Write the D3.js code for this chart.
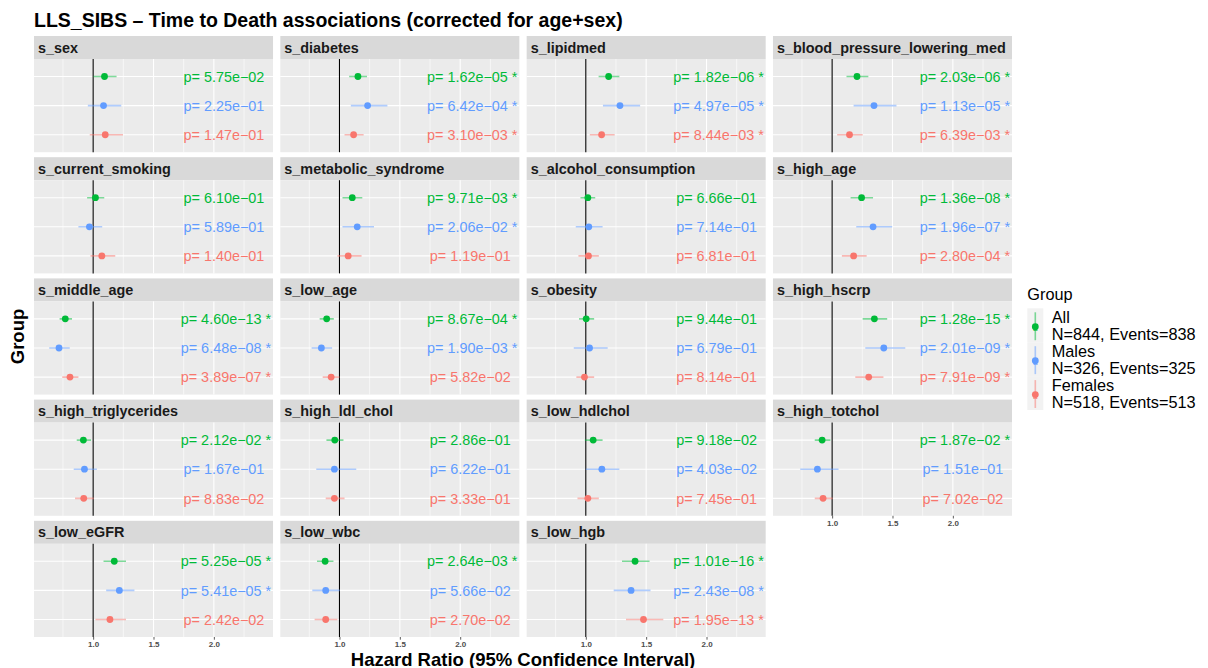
<!DOCTYPE html>
<html>
<head>
<meta charset="utf-8">
<script src="https://cdn.jsdelivr.net/npm/d3@7"></script>
<style>
  html, body { margin: 0; padding: 0; background: #ffffff; }
  svg { display: block; font-family: "Liberation Sans", Arial, Helvetica, sans-serif; }
</style>
</head>
<body>
<svg id="chart" width="1208" height="668"></svg>
<script>
// ---------------- data ----------------
const variables = ["s_sex","s_diabetes","s_lipidmed","s_blood_pressure_lowering_med",
  "s_current_smoking","s_metabolic_syndrome","s_alcohol_consumption","s_high_age",
  "s_middle_age","s_low_age","s_obesity","s_high_hscrp",
  "s_high_triglycerides","s_high_ldl_chol","s_low_hdlchol","s_high_totchol",
  "s_low_eGFR","s_low_wbc","s_low_hgb"];

const groups = ["All", "Males", "Females"];
const groupLabels = [["All", "N=844, Events=838"], ["Males", "N=326, Events=325"], ["Females", "N=518, Events=513"]];
const groupColors = ["#00BA38", "#619CFF", "#F8766D"];

const allHR = [1.094,1.153,1.189,1.206,1.019,1.106,1.017,1.244,0.769,0.894,1.003,1.350,0.919,0.961,1.061,0.917,1.175,0.881,1.408];
const allLo = [1.003,1.080,1.106,1.119,0.950,1.025,0.956,1.153,0.722,0.836,0.944,1.253,0.864,0.892,0.992,0.856,1.086,0.814,1.300];
const allHi = [1.194,1.228,1.278,1.300,1.092,1.189,1.078,1.339,0.825,0.953,1.069,1.456,0.983,1.033,1.139,0.986,1.272,0.950,1.528];
const allP  = ["5.75e-02","1.62e-05","1.82e-06","2.03e-06","6.10e-01","9.71e-03","6.66e-01","1.36e-08","4.60e-13","8.67e-04","9.44e-01","1.28e-15","2.12e-02","2.86e-01","9.18e-02","1.87e-02","5.25e-05","2.64e-03","1.01e-16"];
const allSig = [0,1,1,1,0,1,0,1,1,1,0,1,1,0,0,1,1,1,1];

const maleHR = [1.086,1.233,1.283,1.347,0.969,1.147,1.025,1.339,0.717,0.850,1.031,1.428,0.928,0.958,1.133,0.878,1.217,0.886,1.375];
const maleLo = [0.956,1.094,1.142,1.178,0.878,1.025,0.917,1.200,0.636,0.769,0.900,1.275,0.839,0.808,1.000,0.736,1.108,0.775,1.231];
const maleHi = [1.233,1.397,1.450,1.533,1.075,1.286,1.139,1.497,0.806,0.939,1.181,1.606,1.031,1.139,1.278,1.053,1.342,1.003,1.536];
const maleP  = ["2.25e-01","6.42e-04","4.97e-05","1.13e-05","5.89e-01","2.06e-02","7.14e-01","1.96e-07","6.48e-08","1.90e-03","6.79e-01","2.01e-09","1.67e-01","6.22e-01","4.03e-02","1.51e-01","5.41e-05","5.66e-02","2.43e-08"];
const maleSig = [0,1,1,1,0,1,0,1,1,1,0,1,0,0,0,0,1,0,1];

const femaleHR = [1.100,1.117,1.131,1.144,1.072,1.072,1.022,1.178,0.808,0.931,0.989,1.303,0.922,0.958,1.017,0.925,1.139,0.886,1.478];
const femaleLo = [0.972,1.042,1.033,1.042,0.978,0.983,0.939,1.081,0.744,0.861,0.922,1.192,0.850,0.886,0.931,0.856,1.019,0.794,1.333];
const femaleHi = [1.247,1.200,1.239,1.253,1.183,1.183,1.108,1.286,0.878,1.000,1.069,1.425,1.006,1.042,1.108,1.006,1.272,0.983,1.642];
const femaleP  = ["1.47e-01","3.10e-03","8.44e-03","6.39e-03","1.40e-01","1.19e-01","6.81e-01","2.80e-04","3.89e-07","5.82e-02","8.14e-01","7.91e-09","8.83e-02","3.33e-01","7.45e-01","7.02e-02","2.42e-02","2.70e-02","1.95e-13"];
const femaleSig = [0,1,1,1,0,0,0,1,1,0,0,1,0,0,0,0,0,0,1];

const xTicks = [1.0, 1.5, 2.0];
const xMinor = [0.75, 1.25, 1.75, 2.25];
const xLimits = [0.6, 2.4];
const textX = 2.1;

const titleText = "LLS_SIBS \u2013 Time to Death associations (corrected for age+sex)";
const xTitle = "Hazard Ratio (95% Confidence Interval)";
const yTitle = "Group";
const legendTitle = "Group";

// --------------- build rows ---------------
const series = [
  {hr: allHR, lo: allLo, hi: allHi, p: allP, sig: allSig},
  {hr: maleHR, lo: maleLo, hi: maleHi, p: maleP, sig: maleSig},
  {hr: femaleHR, lo: femaleLo, hi: femaleHi, p: femaleP, sig: femaleSig}
];
const rows = [];
variables.forEach((v, i) => {
  groups.forEach((g, gi) => {
    const s = series[gi];
    rows.push({variable: v, group: g, gi: gi, hr: s.hr[i], lo: s.lo[i], hi: s.hi[i],
      label: "p= " + s.p[i].replace("-", "\u2212") + (s.sig[i] ? " *" : "\u00A0")});
  });
});

// --------------- layout ---------------
const svg = d3.select("#chart");
const nCol = 4, nRow = 5;
const areaL = 34, areaR = 1012, areaT = 36, areaB = 637;
const hGap = 7.3, vGap = 5, stripH = 23;
const cellW = (areaR - areaL - (nCol - 1) * hGap) / nCol;
const rowH = (areaB - areaT - (nRow - 1) * vGap) / nRow;
const panelH = rowH - stripH;

const pad = (xLimits[1] - xLimits[0]) * 0.05;
const x = d3.scaleLinear().domain([xLimits[0] - pad, xLimits[1] + pad]).range([0, cellW]);
const y = d3.scalePoint().domain(groups).range([0, panelH]).padding(0.6);
const color = d3.scaleOrdinal().domain(groups).range(groupColors);

// title
svg.append("text").attr("x", areaL).attr("y", 26.5)
  .attr("font-size", 19.5).attr("font-weight", "bold").attr("fill", "#000")
  .text(titleText);

variables.forEach((v, i) => {
  const c = i % nCol, r = Math.floor(i / nCol);
  const gx = areaL + c * (cellW + hGap);
  const gy = areaT + r * (rowH + vGap);
  const g = svg.append("g").attr("transform", `translate(${gx},${gy})`);

  // strip
  g.append("rect").attr("width", cellW).attr("height", stripH).attr("fill", "#d9d9d9");
  g.append("text").attr("x", 4).attr("y", stripH / 2 + 5)
    .attr("font-size", 14.4).attr("font-weight", "bold").attr("fill", "#1a1a1a").text(v);

  const p = g.append("g").attr("transform", `translate(0,${stripH})`);
  const clipId = "clip" + i;
  p.append("clipPath").attr("id", clipId).append("rect").attr("width", cellW).attr("height", panelH);
  p.append("rect").attr("width", cellW).attr("height", panelH).attr("fill", "#ebebeb");

  // grid
  p.selectAll(".minor").data(xMinor).enter().append("line")
    .attr("x1", d => x(d)).attr("x2", d => x(d)).attr("y1", 0).attr("y2", panelH)
    .attr("stroke", "#fff").attr("stroke-width", 0.6);
  p.selectAll(".major").data(xTicks).enter().append("line")
    .attr("x1", d => x(d)).attr("x2", d => x(d)).attr("y1", 0).attr("y2", panelH)
    .attr("stroke", "#fff").attr("stroke-width", 1.1);
  p.selectAll(".hgrid").data(groups).enter().append("line")
    .attr("x1", 0).attr("x2", cellW).attr("y1", d => y(d)).attr("y2", d => y(d))
    .attr("stroke", "#fff").attr("stroke-width", 1.1);

  // reference line
  p.append("line").attr("x1", x(1)).attr("x2", x(1)).attr("y1", 0).attr("y2", panelH)
    .attr("stroke", "#000").attr("stroke-width", 1.1);

  const data = rows.filter(d => d.variable === v);
  const marks = p.append("g").attr("clip-path", `url(#${clipId})`);
  marks.selectAll(".ci").data(data).enter().append("line")
    .attr("x1", d => x(d.lo)).attr("x2", d => x(d.hi))
    .attr("y1", d => y(d.group)).attr("y2", d => y(d.group))
    .attr("stroke", d => color(d.group)).attr("stroke-opacity", 0.5).attr("stroke-width", 1.6);
  marks.selectAll(".pt").data(data).enter().append("circle")
    .attr("cx", d => x(d.hr)).attr("cy", d => y(d.group)).attr("r", 3.4)
    .attr("fill", d => color(d.group));
  marks.selectAll(".lab").data(data).enter().append("text")
    .attr("x", x(textX)).attr("y", d => y(d.group) + 5.2)
    .attr("text-anchor", "middle").attr("font-size", 14.4)
    .attr("fill", d => color(d.group)).text(d => d.label);

  // x axis on bottom-most panel of each column
  const below = i + nCol;
  if (below >= variables.length) {
    const ax = p.append("g").attr("transform", `translate(0,${panelH})`)
      .call(d3.axisBottom(x).tickValues(xTicks).tickFormat(d3.format(".1f")).tickSize(2.7).tickPadding(1.5));
    ax.select(".domain").remove();
    ax.selectAll(".tick line").attr("stroke", "#333").attr("stroke-width", 0.8);
    ax.selectAll(".tick text").attr("fill", "#4d4d4d").attr("font-size", 8)
      .attr("font-weight", "bold").attr("font-family", "Liberation Sans, Arial, sans-serif");
  }
});

// axis titles
svg.append("text").attr("x", (areaL + areaR) / 2).attr("y", 665.5)
  .attr("text-anchor", "middle").attr("font-size", 18.5).attr("font-weight", "bold")
  .attr("fill", "#000").text(xTitle);
svg.append("text").attr("transform", `translate(24,${(areaT + areaB) / 2}) rotate(-90)`)
  .attr("text-anchor", "middle").attr("font-size", 18.5).attr("font-weight", "bold")
  .attr("fill", "#000").text(yTitle);

// legend
const lg = svg.append("g").attr("transform", "translate(1027.3,0)");
lg.append("text").attr("x", 0).attr("y", 300).attr("font-size", 16.3).attr("fill", "#000").text(legendTitle);
const keyTop = 308.3, keyH = 33.9, keyW = 16;
groups.forEach((gname, gi) => {
  const t = keyTop + gi * keyH;
  const cy = t + keyH / 2;
  lg.append("rect").attr("x", 0).attr("y", t).attr("width", keyW).attr("height", keyH).attr("fill", "#f2f2f2");
  lg.append("line").attr("x1", keyW / 2).attr("x2", keyW / 2).attr("y1", t + 4).attr("y2", t + keyH - 2)
    .attr("stroke", color(gname)).attr("stroke-opacity", 0.5).attr("stroke-width", 1.6);
  lg.append("circle").attr("cx", keyW / 2).attr("cy", cy + 1.5).attr("r", 3.4).attr("fill", color(gname));
  lg.append("text").attr("x", keyW / 2).attr("y", cy + 5.5).attr("text-anchor", "middle")
    .attr("font-size", 8).attr("fill", color(gname)).text("a");
  lg.append("text").attr("x", 24.4).attr("y", cy - 2).attr("font-size", 16.3).attr("fill", "#000").text(groupLabels[gi][0]);
  lg.append("text").attr("x", 24.4).attr("y", cy + 14.6).attr("font-size", 16.3).attr("fill", "#000").text(groupLabels[gi][1]);
});
</script>
</body>
</html>
